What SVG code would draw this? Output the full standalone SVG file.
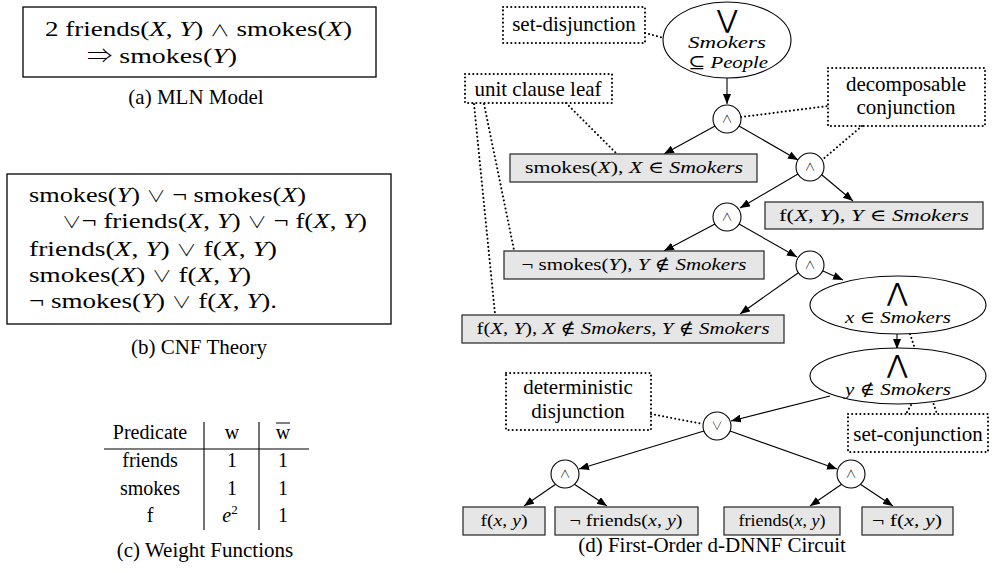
<svg xmlns="http://www.w3.org/2000/svg" width="992" height="573" viewBox="0 0 992 573">
<defs>
<style>
.t{font-family:"Liberation Serif","DejaVu Serif",serif;fill:#000}
.i{font-style:italic}
.o{font-family:"Noto Sans CJK JP","DejaVu Sans",sans-serif;font-weight:300;font-size:16px}
.ar{font-family:"Noto Sans CJK JP","DejaVu Sans",sans-serif;font-weight:300;font-size:20px}
.box{fill:none;stroke:#000;stroke-width:1.3}
.leaf{fill:#e6e6e6;stroke:#333;stroke-width:1.3}
.op{fill:#fff;stroke:#000;stroke-width:1.1}
.dot{fill:none;stroke:#000;stroke-width:2;stroke-dasharray:0.1 4;stroke-linecap:round}
.lab{fill:none;stroke:#000;stroke-width:2;stroke-dasharray:0.1 4;stroke-linecap:round}
.edge{stroke:#000;stroke-width:1.1;fill:none;marker-end:url(#ah)}
.cap{font-size:21px;text-anchor:middle}
.m{font-size:22px}
.lf{font-size:17px;text-anchor:middle}
.sym{font-family:"Noto Sans CJK JP","DejaVu Sans",sans-serif;font-weight:300;font-size:11px;text-anchor:middle}
.big{font-family:"DejaVu Sans",sans-serif;font-weight:200;font-size:25px;text-anchor:middle}
</style>
<marker id="ah" markerWidth="10" markerHeight="8" refX="10" refY="4" orient="auto" markerUnits="userSpaceOnUse"><path d="M0,0 L10,4 L0,8 z" fill="#000"/></marker>
</defs>
<rect width="992" height="573" fill="#fff"/>

<!-- (a) -->
<g id="mln">
<rect class="box" x="23" y="7" width="353" height="70"/>
<text class="t m" x="45" y="36" textLength="307" lengthAdjust="spacingAndGlyphs">2 friends(<tspan class="i">X</tspan>, <tspan class="i">Y</tspan>) <tspan class="o">∧</tspan> smokes(<tspan class="i">X</tspan>)</text>
<text class="t m" x="87" y="63" textLength="150" lengthAdjust="spacingAndGlyphs"><tspan class="ar">⇒</tspan> smokes(<tspan class="i">Y</tspan>)</text>
<text class="t cap" x="196" y="104">(a) MLN Model</text>
</g>

<!-- (b) -->
<g id="cnf">
<rect class="box" x="7" y="174" width="384" height="150"/>
<text class="t m" x="29" y="202" textLength="277" lengthAdjust="spacingAndGlyphs">smokes(<tspan class="i">Y</tspan>) <tspan class="o">∨</tspan> ¬ smokes(<tspan class="i">X</tspan>)</text>
<text class="t m" x="62" y="228" textLength="305" lengthAdjust="spacingAndGlyphs"><tspan class="o">∨</tspan>¬ friends(<tspan class="i">X</tspan>, <tspan class="i">Y</tspan>) <tspan class="o">∨</tspan> ¬ f(<tspan class="i">X</tspan>, <tspan class="i">Y</tspan>)</text>
<text class="t m" x="29" y="256" textLength="248" lengthAdjust="spacingAndGlyphs">friends(<tspan class="i">X</tspan>, <tspan class="i">Y</tspan>) <tspan class="o">∨</tspan> f(<tspan class="i">X</tspan>, <tspan class="i">Y</tspan>)</text>
<text class="t m" x="29" y="282" textLength="222" lengthAdjust="spacingAndGlyphs">smokes(<tspan class="i">X</tspan>) <tspan class="o">∨</tspan> f(<tspan class="i">X</tspan>, <tspan class="i">Y</tspan>)</text>
<text class="t m" x="29" y="308" textLength="248" lengthAdjust="spacingAndGlyphs">¬ smokes(<tspan class="i">Y</tspan>) <tspan class="o">∨</tspan> f(<tspan class="i">X</tspan>, <tspan class="i">Y</tspan>).</text>
<text class="t cap" x="199" y="354">(b) CNF Theory</text>
</g>

<!-- (c) -->
<g id="weights">
<line x1="104" y1="449" x2="309" y2="449" stroke="#000" stroke-width="1.1"/>
<line x1="204" y1="422" x2="204" y2="530" stroke="#000" stroke-width="1.1"/>
<line x1="259" y1="422" x2="259" y2="530" stroke="#000" stroke-width="1.1"/>
<g class="t" font-size="20" text-anchor="middle">
<text x="150" y="439">Predicate</text>
<text x="232" y="439">w</text>
<text x="283" y="439">w</text>
<line x1="276" y1="423" x2="290" y2="423" stroke="#000" stroke-width="1"/>
<text x="150" y="467">friends</text>
<text x="232" y="467">1</text>
<text x="283" y="467">1</text>
<text x="150" y="495">smokes</text>
<text x="232" y="495">1</text>
<text x="283" y="495">1</text>
<text x="150" y="522">f</text>
<text x="230" y="522"><tspan class="i">e</tspan><tspan font-size="13" dy="-8">2</tspan></text>
<text x="283" y="522">1</text>
</g>
<text class="t cap" x="205" y="557">(c) Weight Functions</text>
</g>

<!-- (d) connectors -->
<g id="connectors">
<line class="edge" x1="727" y1="78" x2="727" y2="104"/>
<line class="edge" x1="715" y1="126" x2="664" y2="154"/>
<line class="edge" x1="739" y1="126" x2="798" y2="160"/>
<line class="edge" x1="822" y1="175" x2="853" y2="201"/>
<line class="edge" x1="798" y1="174" x2="740" y2="208"/>
<line class="edge" x1="715" y1="224" x2="664" y2="251"/>
<line class="edge" x1="739" y1="224" x2="797" y2="257"/>
<line class="edge" x1="798" y1="273" x2="740" y2="314"/>
<line class="edge" x1="823" y1="271" x2="843" y2="280"/>
<line class="edge" x1="897" y1="334" x2="897" y2="349"/>
<line class="edge" x1="830" y1="396" x2="731" y2="421"/>
<line class="edge" x1="704" y1="431" x2="579" y2="469"/>
<line class="edge" x1="730" y1="431" x2="837" y2="469"/>
<line class="edge" x1="556" y1="484" x2="524" y2="506"/>
<line class="edge" x1="574" y1="484" x2="607" y2="506"/>
<line class="edge" x1="842" y1="484" x2="810" y2="506"/>
<line class="edge" x1="860" y1="484" x2="893" y2="506"/>
<line class="dot" x1="645" y1="33" x2="664" y2="38"/>
<line class="dot" x1="566" y1="103" x2="617" y2="154"/>
<line class="dot" x1="474" y1="104" x2="495" y2="314"/>
<line class="dot" x1="484" y1="104" x2="514" y2="250"/>
<line class="dot" x1="741" y1="117" x2="828" y2="106"/>
<line class="dot" x1="862" y1="126" x2="822" y2="160"/>
<line class="dot" x1="910" y1="334" x2="937" y2="414"/>
<line class="dot" x1="911" y1="405" x2="906" y2="414"/>
<line class="dot" x1="651" y1="414" x2="703" y2="424"/>
</g>

<!-- annotation labels -->
<g id="lab-setdisj">
<rect class="lab" x="503" y="7" width="142" height="36"/>
<text class="t cap" x="574" y="31">set-disjunction</text>
</g>
<g id="lab-unit">
<rect class="lab" x="465" y="74" width="147" height="29"/>
<text class="t cap" x="538" y="96">unit clause leaf</text>
</g>
<g id="lab-decomp">
<rect class="lab" x="828" y="68" width="157" height="58"/>
<text class="t cap" x="906" y="91">decomposable</text>
<text class="t cap" x="906" y="114">conjunction</text>
</g>
<g id="lab-setconj">
<rect class="lab" x="848" y="414" width="140" height="38"/>
<text class="t cap" x="918" y="441">set-conjunction</text>
</g>
<g id="lab-det">
<rect class="lab" x="506" y="373" width="145" height="57"/>
<text class="t cap" x="578" y="394">deterministic</text>
<text class="t cap" x="578" y="418">disjunction</text>
</g>

<!-- nodes -->
<g id="setdisj">
<ellipse class="op" cx="727" cy="40" rx="64" ry="38"/>
<text class="big" x="727" y="28">⋁</text>
<text class="t i" font-size="17" x="727" y="48" text-anchor="middle" textLength="78" lengthAdjust="spacingAndGlyphs">Smokers</text>
<text class="t" font-size="17" x="728" y="68" text-anchor="middle" textLength="80" lengthAdjust="spacingAndGlyphs">⊆ <tspan class="i">People</tspan></text>
</g>
<g id="and1"><circle class="op" cx="727" cy="119" r="14"/><text class="sym" x="727" y="123">∧</text></g>
<g id="and2"><circle class="op" cx="810" cy="167" r="14"/><text class="sym" x="810" y="171">∧</text></g>
<g id="and3"><circle class="op" cx="727" cy="217" r="14"/><text class="sym" x="727" y="221">∧</text></g>
<g id="and4"><circle class="op" cx="810" cy="265" r="14"/><text class="sym" x="810" y="269">∧</text></g>
<g id="or1"><circle class="op" cx="717" cy="426" r="14"/><text class="sym" x="717" y="430">∨</text></g>
<g id="and5"><circle class="op" cx="565" cy="474" r="14"/><text class="sym" x="565" y="478">∧</text></g>
<g id="and6"><circle class="op" cx="851" cy="474" r="14"/><text class="sym" x="851" y="478">∧</text></g>

<g id="setconj-x">
<ellipse class="op" cx="898" cy="305" rx="88" ry="29"/>
<text class="big" x="897" y="301">⋀</text>
<text class="t" font-size="17" x="898" y="323" text-anchor="middle" textLength="106" lengthAdjust="spacingAndGlyphs"><tspan class="i">x</tspan> ∈ <tspan class="i">Smokers</tspan></text>
</g>
<g id="setconj-y">
<ellipse class="op" cx="898" cy="376" rx="88" ry="28"/>
<text class="big" x="897" y="373">⋀</text>
<text class="t" font-size="17" x="898" y="395" text-anchor="middle" textLength="106" lengthAdjust="spacingAndGlyphs"><tspan class="i">y</tspan> ∉ <tspan class="i">Smokers</tspan></text>
</g>

<g id="leaf1"><rect class="leaf" x="510" y="154" width="247" height="28"/>
<text class="t lf" x="634" y="173" textLength="218" lengthAdjust="spacingAndGlyphs">smokes(<tspan class="i">X</tspan>), <tspan class="i">X</tspan> ∈ <tspan class="i">Smokers</tspan></text></g>
<g id="leaf2"><rect class="leaf" x="765" y="202" width="218" height="27"/>
<text class="t lf" x="874" y="221" textLength="190" lengthAdjust="spacingAndGlyphs">f(<tspan class="i">X</tspan>, <tspan class="i">Y</tspan>), <tspan class="i">Y</tspan> ∈ <tspan class="i">Smokers</tspan></text></g>
<g id="leaf3"><rect class="leaf" x="504" y="251" width="260" height="28"/>
<text class="t lf" x="634" y="270" textLength="225" lengthAdjust="spacingAndGlyphs">¬ smokes(<tspan class="i">Y</tspan>), <tspan class="i">Y</tspan> ∉ <tspan class="i">Smokers</tspan></text></g>
<g id="leaf4"><rect class="leaf" x="462" y="315" width="322" height="28"/>
<text class="t lf" x="623" y="334" textLength="293" lengthAdjust="spacingAndGlyphs">f(<tspan class="i">X</tspan>, <tspan class="i">Y</tspan>), <tspan class="i">X</tspan> ∉ <tspan class="i">Smokers</tspan>, <tspan class="i">Y</tspan> ∉ <tspan class="i">Smokers</tspan></text></g>
<g id="leaf5"><rect class="leaf" x="463" y="507" width="82" height="28"/>
<text class="t lf" x="504" y="526" textLength="47" lengthAdjust="spacingAndGlyphs">f(<tspan class="i">x</tspan>, <tspan class="i">y</tspan>)</text></g>
<g id="leaf6"><rect class="leaf" x="555" y="507" width="143" height="28"/>
<text class="t lf" x="626" y="526" textLength="113" lengthAdjust="spacingAndGlyphs">¬ friends(<tspan class="i">x</tspan>, <tspan class="i">y</tspan>)</text></g>
<g id="leaf7"><rect class="leaf" x="724" y="507" width="116" height="28"/>
<text class="t lf" x="782" y="526" textLength="87" lengthAdjust="spacingAndGlyphs">friends(<tspan class="i">x</tspan>, <tspan class="i">y</tspan>)</text></g>
<g id="leaf8"><rect class="leaf" x="862" y="507" width="91" height="28"/>
<text class="t lf" x="907" y="526" textLength="70" lengthAdjust="spacingAndGlyphs">¬ f(<tspan class="i">x</tspan>, <tspan class="i">y</tspan>)</text></g>

<text class="t cap" x="712" y="552">(d) First-Order d-DNNF Circuit</text>
</svg>
